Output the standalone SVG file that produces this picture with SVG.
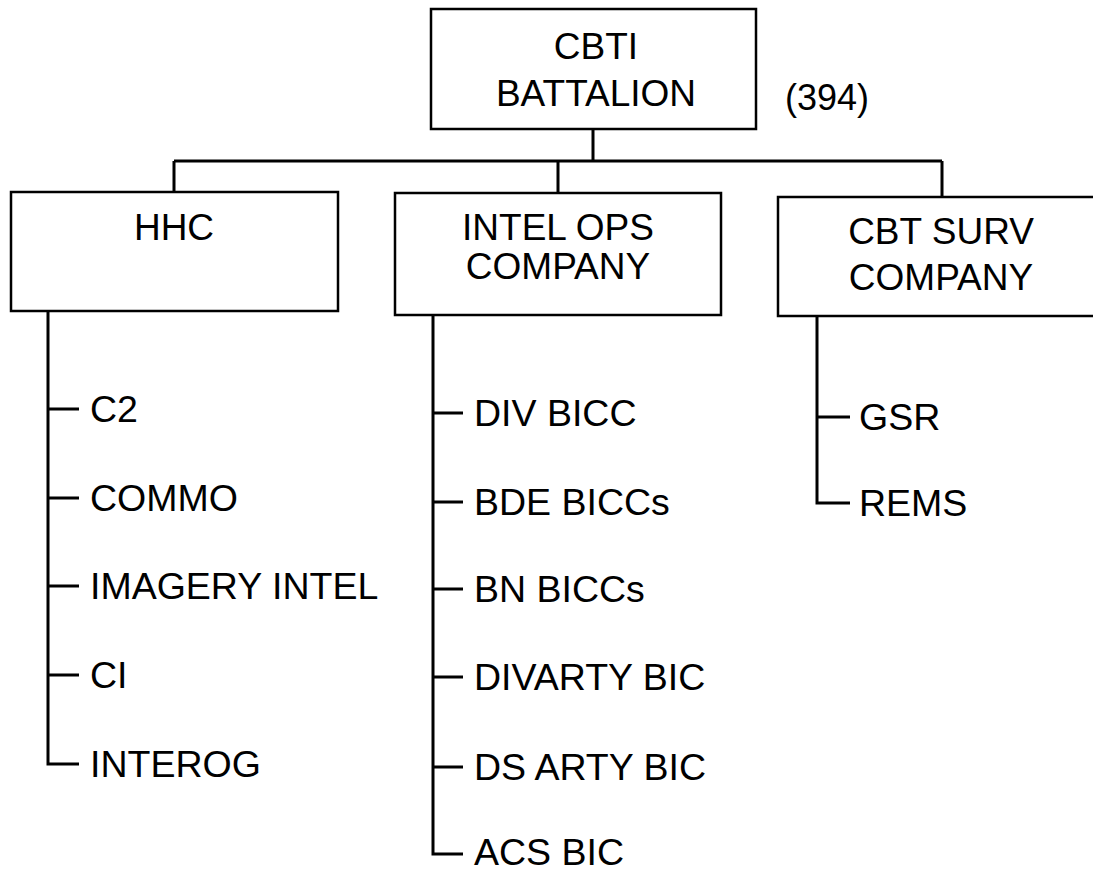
<svg xmlns="http://www.w3.org/2000/svg" width="1093" height="873" viewBox="0 0 1093 873">
<style>
.box{fill:#fff;stroke:#000;stroke-width:2.5}
.ln{fill:none;stroke:#000;stroke-width:3}
text{font-family:"Liberation Sans",Arial,sans-serif;fill:#000}
.bt{font-size:37px;text-anchor:middle}
.it{font-size:37.5px}
</style>
<rect width="1093" height="873" fill="#fff"/>
<g id="connectors">
<path class="ln" d="M593,129 V161 M174,161 H942 M174,161 V192 M558,161 V193 M942,161 V197"/>
<path class="ln" d="M48,311 V764 H79 M48,409 H79 M48,498 H79 M48,586 H79 M48,675 H79"/>
<path class="ln" d="M433,315 V854 H463 M433,413 H463 M433,502 H463 M433,589 H463 M433,677 H463 M433,767 H463"/>
<path class="ln" d="M817,316 V503 H850 M817,417 H850"/>
</g>
<g id="n-battalion">
<rect class="box" x="431" y="9" width="325" height="120"/>
<text class="bt" x="596" y="59">CBTI</text>
<text class="bt" x="596" y="106">BATTALION</text>
</g>
<g id="n-count">
<text x="785" y="110" style="font-size:36px">(394)</text>
</g>
<g id="n-hhc">
<rect class="box" x="11" y="192" width="327" height="119"/>
<text class="bt" x="174" y="240">HHC</text>
</g>
<g id="n-intel">
<rect class="box" x="395" y="193" width="326" height="122"/>
<text class="bt" x="558" y="240">INTEL OPS</text>
<text class="bt" x="558" y="279">COMPANY</text>
</g>
<g id="n-cbtsurv">
<rect class="box" x="778" y="197" width="330" height="119"/>
<text class="bt" x="941" y="244">CBT SURV</text>
<text class="bt" x="941" y="290">COMPANY</text>
</g>
<g id="n-hhc-items">
<text class="it" x="90" y="422">C2</text>
<text class="it" x="90" y="511">COMMO</text>
<text class="it" x="90" y="599">IMAGERY INTEL</text>
<text class="it" x="90" y="688">CI</text>
<text class="it" x="90" y="777">INTEROG</text>
</g>
<g id="n-intel-items">
<text class="it" x="474" y="426">DIV BICC</text>
<text class="it" x="474" y="515">BDE BICCs</text>
<text class="it" x="474" y="602">BN BICCs</text>
<text class="it" x="474" y="690">DIVARTY BIC</text>
<text class="it" x="474" y="780">DS ARTY BIC</text>
<text class="it" x="474" y="865">ACS BIC</text>
</g>
<g id="n-cbt-items">
<text class="it" x="859" y="430">GSR</text>
<text class="it" x="859" y="516">REMS</text>
</g>
</svg>
